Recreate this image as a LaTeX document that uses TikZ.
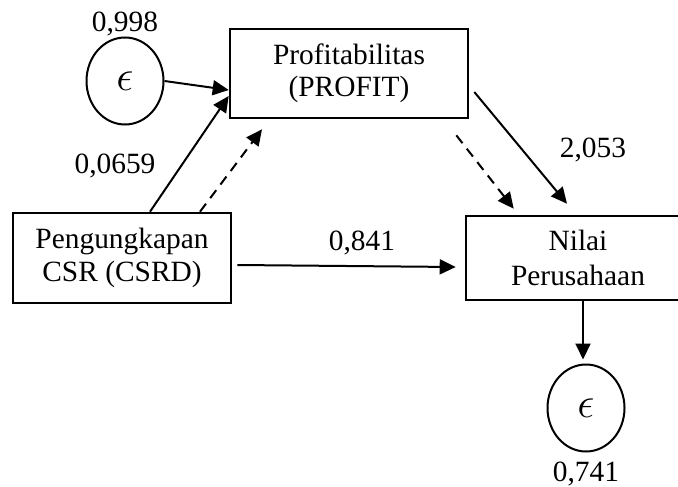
\documentclass[tikz,border=0pt]{standalone}
\usepackage{fontspec}
\setmainfont{Liberation Serif}
\usetikzlibrary{arrows.meta,shapes.geometric}
\begin{document}
\begin{tikzpicture}[x=0.5pt,y=-0.5pt,
  every node/.style={font=\fontsize{14.7}{17.5}\selectfont},
  box/.style={draw,line width=1.3pt,rectangle,align=center,inner sep=0pt},
  err/.style={draw,line width=1pt,ellipse,minimum width=38.5pt,minimum height=43.5pt,inner sep=0pt},
  conn/.style={line width=1pt,-{Triangle[length=8pt,width=7.5pt]}},
  dconn/.style={conn,dash pattern=on 5pt off 3.5pt},
  lab/.style={anchor=base}]
\useasboundingbox (0,0) rectangle (678,486);
\clip (0,0) rectangle (678,486);
\node[box,minimum width=119pt,minimum height=44.5pt] (profit) at (349,73.5) {\raisebox{-1.5pt}{Profitabilitas}\\(PROFIT)};
\node[box,minimum width=109pt,minimum height=45pt] (csrd) at (122,258) {\raisebox{-1pt}{Pengungkapan}\\CSR (CSRD)};
\node[box,minimum width=112pt,minimum height=42pt] (nilai) at (578,258) {Nilai\\Perusahaan};
\node[err] (e1) at (125,81) {\scalebox{1.5}{$\epsilon$}};
\node[err] (e2) at (586,408) {\scalebox{1.5}{$\epsilon$}};
\node[lab] (l1) at (125,32) {0,998};
\node[lab] (l2) at (115,173) {0,0659};
\node[lab] (l3) at (362,250) {0,841};
\node[lab] (l4) at (593,157) {2,053};
\node[lab] (l5) at (586,481) {0,741};
\draw[conn] (e1.east) -- ([yshift=-8.25pt]profit.west);
\draw[conn] ([xshift=14pt]csrd.north) -- ([yshift=-11.25pt]profit.west);
\draw[dconn] ([xshift=39pt]csrd.north) -- ([xshift=-43.5pt,yshift=-5pt]profit.south);
\draw[conn] ([xshift=2.5pt,yshift=-3.5pt]csrd.east) -- ([xshift=-4.5pt,yshift=-4.5pt]nilai.west);
\draw[conn] ([xshift=2.5pt,yshift=-9.25pt]profit.east) -- ([xshift=-5.5pt,yshift=5.5pt]nilai.north);
\draw[dconn] ([xshift=-6.5pt,yshift=-8pt]profit.south east) -- ([xshift=24.5pt,yshift=3pt]nilai.north west);
\draw[conn] ([xshift=2.5pt]nilai.south) -- ([xshift=-1.5pt,yshift=2pt]e2.north);
\end{tikzpicture}
\end{document}
